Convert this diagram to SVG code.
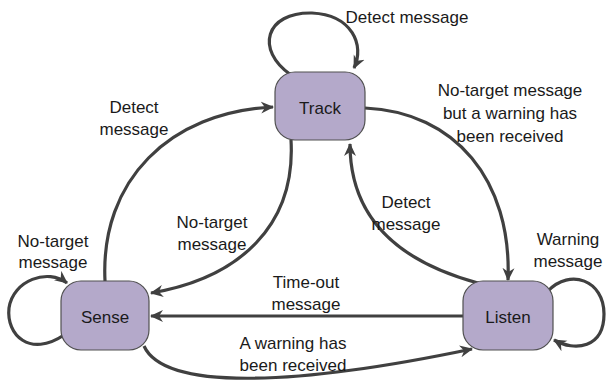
<svg xmlns="http://www.w3.org/2000/svg" width="608" height="388" viewBox="0 0 608 388">
<style>
.node{fill:#b4a9ca;stroke:#505050;stroke-width:1.2}
.edge{fill:none;stroke:#404040;stroke-width:3.2;marker-end:url(#ah)}
text{font-family:"Liberation Sans",Arial,sans-serif;font-size:17px;fill:#1a1a1a;text-anchor:middle}
</style>
<defs>
<marker id="ah" markerUnits="userSpaceOnUse" markerWidth="14" markerHeight="14" viewBox="0 0 14 14" refX="12" refY="7" orient="auto">
<path d="M0,1 L13,7 L0,13 L4,7 z" fill="#404040"/>
</marker>
</defs>
<rect width="608" height="388" fill="#ffffff"/>
<g id="connectors">
<path class="edge" d="M291 75 C255 50 265 12 312 13 C352 15 365 45 354 68"/>
<path class="edge" d="M105 281 C100 180 170 112 273 107"/>
<path class="edge" d="M291 140 C296 225 240 278 151 293"/>
<path class="edge" d="M365 108 C455 112 512 180 508 280"/>
<path class="edge" d="M478 283 C400 262 350 220 350 144"/>
<path class="edge" d="M463 316 L151 316"/>
<path class="edge" d="M144 346 C165 392 300 385 472 349"/>
<path class="edge" d="M64 335 C30 358 6 335 9 308 C13 280 48 268 67 283"/>
<path class="edge" d="M548 291 C570 268 604 280 604 314 C604 348 575 352 554 340"/>
</g>
<g id="labels">
<text x="407" y="23">Detect message</text>
<text x="134" y="113">Detect</text>
<text x="134" y="135">message</text>
<text x="212" y="228">No-target</text>
<text x="212" y="250">message</text>
<text x="510" y="96">No-target message</text>
<text x="510" y="119">but a warning has</text>
<text x="510" y="142">been received</text>
<text x="406" y="208">Detect</text>
<text x="406" y="230">message</text>
<text x="53" y="247">No-target</text>
<text x="53" y="268">message</text>
<text x="568" y="245">Warning</text>
<text x="568" y="267">message</text>
<text x="306" y="288">Time-out</text>
<text x="306" y="310">message</text>
<text x="293" y="349">A warning has</text>
<text x="293" y="371">been received</text>
</g>
<g id="track"><rect class="node" x="275" y="72" width="90" height="68" rx="20"/><text x="320" y="114">Track</text></g>
<g id="sense"><rect class="node" x="61" y="281" width="88" height="69" rx="20"/><text x="105" y="323">Sense</text></g>
<g id="listen"><rect class="node" x="463" y="281" width="90" height="69" rx="20"/><text x="508" y="323">Listen</text></g>
</svg>
